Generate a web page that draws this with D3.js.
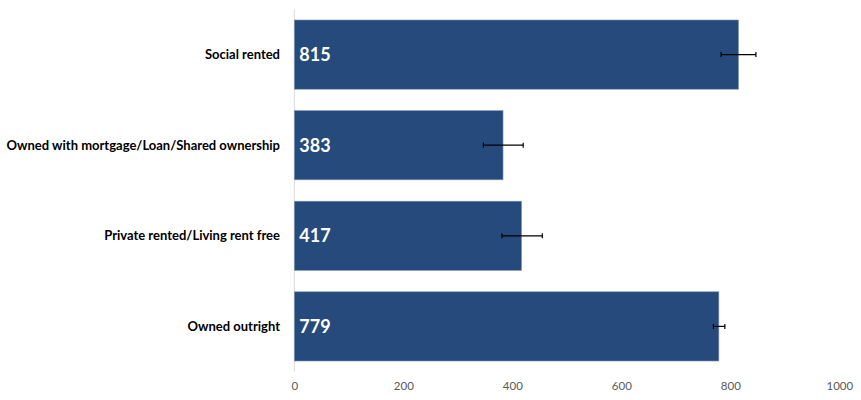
<!DOCTYPE html>
<html><head><meta charset="utf-8">
<script src="https://cdn.jsdelivr.net/npm/d3@7"></script>
<style>body{margin:0;background:#fff;}svg{display:block;}</style>
</head><body>
<svg id="chart" width="861" height="400"></svg>
<script>
const categories = ["Social rented","Owned with mortgage/Loan/Shared ownership","Private rented/Living rent free","Owned outright"];
const values = [815, 383, 417, 779];
const errLow = [783, 347, 381, 769];
const errHigh = [847, 420, 455, 790];
const xTicks = [0, 200, 400, 600, 800, 1000];

const svg = d3.select("#chart");
const x = d3.scaleLinear().domain([0, 1000]).range([294.3, 839.3]);
const y = d3.scaleBand().domain(categories).range([9.3, 371.7]).paddingInner(0.236).paddingOuter(0.118);

// vertical axis line
svg.append("line").attr("x1", x(0)).attr("x2", x(0)).attr("y1", 9.3).attr("y2", 371.7)
  .attr("stroke", "#d9d9d9").attr("stroke-width", 1);

const data = categories.map((c, i) => ({c, v: values[i], lo: errLow[i], hi: errHigh[i]}));

svg.selectAll("rect.bar").data(data).enter().append("rect")
  .attr("class", "bar")
  .attr("x", x(0)).attr("y", d => y(d.c))
  .attr("width", d => x(d.v) - x(0)).attr("height", y.bandwidth())
  .attr("fill", "#264a7b").attr("stroke", "#7f95b5").attr("stroke-width", 0.6);

// value labels
svg.selectAll("text.val").data(data).enter().append("text")
  .attr("class", "val")
  .attr("x", x(0) + 5).attr("y", d => y(d.c) + y.bandwidth() / 2)
  .attr("dy", "0.36em")
  .attr("fill", "#fff").attr("font-family", "Lato").attr("font-weight", "bold").attr("font-size", 18)
  .text(d => d.v);

// error bars
const eb = svg.selectAll("g.err").data(data).enter().append("g").attr("class", "err");
eb.append("line").attr("x1", d => x(d.lo)).attr("x2", d => x(d.hi))
  .attr("y1", d => y(d.c) + y.bandwidth() / 2).attr("y2", d => y(d.c) + y.bandwidth() / 2)
  .attr("stroke", "#000").attr("stroke-width", 1.2);
eb.append("line").attr("x1", d => x(d.lo)).attr("x2", d => x(d.lo))
  .attr("y1", d => y(d.c) + y.bandwidth() / 2 - 2.5).attr("y2", d => y(d.c) + y.bandwidth() / 2 + 2.5)
  .attr("stroke", "#000").attr("stroke-width", 1.2);
eb.append("line").attr("x1", d => x(d.hi)).attr("x2", d => x(d.hi))
  .attr("y1", d => y(d.c) + y.bandwidth() / 2 - 2.5).attr("y2", d => y(d.c) + y.bandwidth() / 2 + 2.5)
  .attr("stroke", "#000").attr("stroke-width", 1.2);

// category labels
svg.selectAll("text.cat").data(categories).enter().append("text")
  .attr("class", "cat")
  .attr("x", 280).attr("y", d => y(d) + y.bandwidth() / 2)
  .attr("dy", "0.36em").attr("text-anchor", "end")
  .attr("fill", "#000").attr("font-family", "Lato").attr("font-weight", "bold").attr("font-size", 13)
  .text(d => d);

// x axis tick labels
const xAxis = d3.axisBottom(x).tickValues(xTicks).tickFormat(d3.format("d")).tickSize(0).tickPadding(10);
const gx = svg.append("g").attr("transform", "translate(0,372)").call(xAxis);
gx.select(".domain").remove();
gx.selectAll("text").attr("fill", "#595959").attr("font-family", "Lato").attr("font-size", 11.5);
</script>
</body></html>
